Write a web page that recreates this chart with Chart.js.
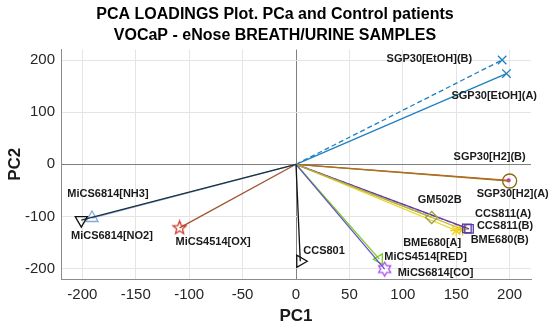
<!DOCTYPE html>
<html>
<head>
<meta charset="utf-8">
<script src="https://cdn.jsdelivr.net/npm/chart.js@4/dist/chart.umd.min.js"></script>
<style>
  html, body { margin: 0; padding: 0; background: #fff; }
  #wrap { width: 550px; height: 327px; }
</style>
</head>
<body>
<div id="wrap"><canvas id="pca"></canvas></div>
<script>
// loadings
const sensors = [
  "SGP30[EtOH](B)", "SGP30[EtOH](A)", "SGP30[H2](B)", "SGP30[H2](A)", "GM502B",
  "CCS811(A)", "CCS811(B)", "BME680[A]", "BME680(B)", "CCS801",
  "MiCS4514[RED]", "MiCS6814[CO]", "MiCS6814[NH3]", "MiCS6814[NO2]", "MiCS4514[OX]"
];
const pc1 = [193, 197, 199, 200, 127, 162, 160, 150, 156, 4, 78, 83, -201, -191, -109];
const pc2 = [200, 174, -31, -32, -102, -124, -123, -127, -125, -186, -182, -201, -107, -103, -122];
const xTicks = [-200, -150, -100, -50, 0, 50, 100, 150, 200];
const yTicks = [-200, -100, 0, 100, 200];

// styling per sensor
const lineColors = ["#1f80c0", "#1f80c0", "#e8402a", "#9c7a1c", "#b0b040", "#5a40a8", "#d050d0",
  "#e6d420", "#c8c030", "#111111", "#77cc22", "#6650c8", "#1c3434", "#8eaaf0", "#a0522d"];
const markerColors = ["#1f80c0", "#1f80c0", "#e020c0", "#8a6a10", "#a0a040", "#5a3aa8", "#5a3aa8",
  "#f0d020", "#d8c828", "#111111", "#77cc22", "#a040f0", "#111111", "#80a8e0", "#d03020"];
const dashed = [true, false, false, false, false, false, true, false, false, false, false, false, false, false, false];
const rotations = [0, 0, 0, 0, 0, 0, 0, 0, 0, 90, -90, 0, 180, 0, 0];
const markerSize = [6, 6, 1.5, 7, 6, 6, 6, 6, 6, 7, 6, 0, 7, 7, 0];
// label offset from its marker, in px, and alignment
const labelPos = [
  [-30, -1, "right"], [-55, 22, "left"], [-55, -23, "left"], [-33, 13, "left"], [-14, -18, "left"],
  [6, -15, "left"], [10, -2, "left"], [5, 12, "right"], [8, 10, "left"], [3, -10, "left"],
  [5, -2, "left"], [13, 4, "left"], [-14, -26, "left"], [-21, 18, "left"], [-4, 14, "left"]
];

function makeStar(points, outer, inner, color) {
  const c = document.createElement("canvas");
  const s = Math.ceil(outer * 2 + 3);
  c.width = s; c.height = s;
  const g = c.getContext("2d");
  g.strokeStyle = color;
  g.lineWidth = 1.2;
  g.beginPath();
  for (let k = 0; k < points * 2; k++) {
    const r = k % 2 === 0 ? outer : inner;
    const a = -Math.PI / 2 + k * Math.PI / points;
    const px = s / 2 + r * Math.cos(a), py = s / 2 + r * Math.sin(a);
    if (k === 0) g.moveTo(px, py); else g.lineTo(px, py);
  }
  g.closePath();
  g.stroke();
  return c;
}

const markers = ["crossRot", "crossRot", "circle", "circle", "rectRot", "rect", "rect", "star", "star",
  "triangle", "triangle", makeStar(6, 7, 4, markerColors[11]), "triangle", "triangle",
  makeStar(5, 7, 3, markerColors[14])];

const datasets = sensors.map((name, i) => ({
  label: name,
  data: [{ x: 0, y: 0 }, { x: pc1[i], y: pc2[i] }],
  showLine: true,
  borderColor: lineColors[i],
  borderWidth: 1.3,
  borderDash: dashed[i] ? [5, 3] : [],
  pointStyle: ["circle", markers[i]],
  pointRadius: [0, markerSize[i] || 6],
  pointRotation: [0, rotations[i]],
  pointBorderColor: markerColors[i],
  pointBackgroundColor: i === 2 ? markerColors[i] : "transparent",
  pointBorderWidth: 1.3
}));
// keep the magenta dot of H2(B) on top of the H2(A) circle
const order = [12, 13, 14, 9, 11, 10, 4, 5, 6, 7, 8, 3, 2, 0, 1];
const orderedSets = order.map(i => datasets[i]);

const pointLabels = {
  id: "pointLabels",
  afterDatasetsDraw(chart) {
    const { ctx, scales: { x, y } } = chart;
    ctx.save();
    ctx.font = "bold 11px 'Liberation Sans', Arial, sans-serif";
    ctx.fillStyle = "#1a1a1a";
    ctx.textBaseline = "middle";
    sensors.forEach((name, i) => {
      const [dx, dy, align] = labelPos[i];
      ctx.textAlign = align;
      ctx.fillText(name, x.getPixelForValue(pc1[i]) + dx, y.getPixelForValue(pc2[i]) + dy);
    });
    ctx.restore();
  }
};

const gridColor = ctx => ctx.tick && ctx.tick.value === 0 ? "#808080" : "#e4e4e4";
const font = "'Liberation Sans', Arial, sans-serif";

new Chart(document.getElementById("pca"), {
  type: "scatter",
  data: { datasets: orderedSets },
  options: {
    responsive: true,
    maintainAspectRatio: false,
    animation: false,
    layout: { padding: 0 },
    plugins: {
      legend: { display: false },
      tooltip: { enabled: false },
      title: {
        display: true,
        text: ["PCA LOADINGS Plot. PCa and Control patients", "VOCaP - eNose BREATH/URINE SAMPLES"],
        color: "#000",
        font: { family: font, size: 16, weight: "bold", lineHeight: 1.3 },
        padding: { top: 4, bottom: 4 }
      }
    },
    scales: {
      x: {
        min: -220, max: 220,
        afterBuildTicks: s => { s.ticks = xTicks.map(v => ({ value: v })); },
        afterFit: s => { s.height = 48; },
        grid: { color: gridColor, drawTicks: false },
        border: { color: "#8c8c8c" },
        ticks: { color: "#262626", padding: 7, font: { family: font, size: 15 } },
        title: {
          display: true, text: "PC1", color: "#1a1a1a",
          font: { family: font, size: 17, weight: "bold" },
          padding: { top: 0, bottom: 0 }
        }
      },
      y: {
        min: -220, max: 220,
        afterBuildTicks: s => { s.ticks = yTicks.map(v => ({ value: v })); },
        afterFit: s => { s.width = 61; },
        grid: { color: gridColor, drawTicks: false },
        border: { color: "#8c8c8c" },
        ticks: { color: "#262626", padding: 6, font: { family: font, size: 15 } },
        title: {
          display: true, text: "PC2", color: "#1a1a1a",
          font: { family: font, size: 17, weight: "bold" },
          padding: { top: 5, bottom: 0 }
        }
      },
      // empty right margin so the title stays centred on the full width
      yRight: {
        position: "right",
        min: -220, max: 220,
        afterFit: s => { s.width = 19; },
        grid: { display: false },
        border: { display: false },
        ticks: { display: false }
      }
    }
  },
  plugins: [pointLabels]
});
</script>
</body>
</html>
